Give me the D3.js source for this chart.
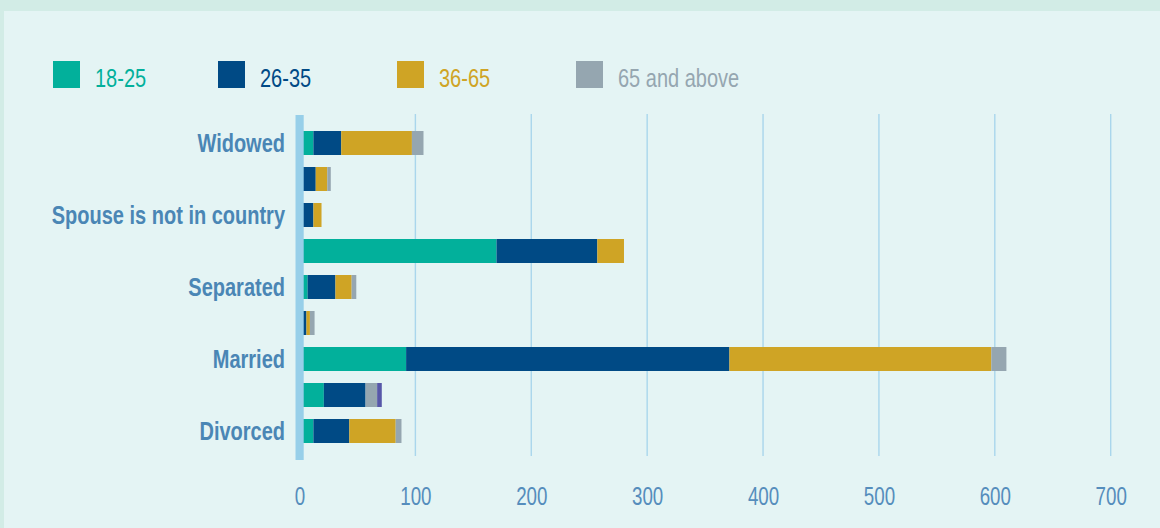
<!DOCTYPE html>
<html>
<head>
<meta charset="utf-8">
<script src="https://cdn.jsdelivr.net/npm/d3@7/dist/d3.min.js"></script>
<style>
  html, body { margin: 0; padding: 0; background: #d2ece6; }
  svg { display: block; }
  text { font-family: "Liberation Sans", Arial, sans-serif; }
</style>
</head>
<body>
<svg id="chart" width="1160" height="528"></svg>
<script>
// Marital status, listed top to bottom (blank rows carry no visible label)
const categories = ["Widowed", "", "Spouse is not in country", "", "Separated", "", "Married", "", "Divorced"];

// Age groups
const seriesNames = ["18-25", "26-35", "36-65", "65 and above", "other"];
const legendNames = ["18-25", "26-35", "36-65", "65 and above"];

// Counts per age group, same order as categories
const values18to25 = [12, 0, 0, 170, 7, 0, 92, 21, 12];
const values26to35 = [24, 14, 12, 87, 24, 6, 279, 36, 31];
const values36to65 = [61, 10, 7, 23, 14, 3, 226, 0, 40];
const values65up   = [10, 3, 0, 0, 4, 4, 13, 10, 5];
const valuesOther  = [0, 0, 0, 0, 0, 0, 0, 4, 0];

const xTicks = [0, 100, 200, 300, 400, 500, 600, 700];

const colors = ["#02b09b", "#004a85", "#cfa425", "#95a6b0", "#5757a8"];
const legendTextColors = ["#02b09b", "#004a85", "#cfa425", "#95a6b0"];

// condensed look: regular sans squeezed horizontally
const NARROW = 0.8;

const seriesValues = [values18to25, values26to35, values36to65, values65up, valuesOther];
const rows = categories.map((c, i) => {
  const r = { idx: i, label: c };
  seriesNames.forEach((s, k) => { r[s] = seriesValues[k][i]; });
  return r;
});

const svg = d3.select("#chart");

// panel
svg.append("rect").attr("x", 4).attr("y", 11).attr("width", 1156).attr("height", 517).attr("fill", "#e4f4f4");

const x = d3.scaleLinear().domain([0, 700]).range([299.5, 1110.7]);
const y = d3.scaleBand().domain(rows.map(r => r.idx)).range([125, 449]).paddingInner(1 / 3).paddingOuter(1 / 6);

// vertical grid lines
svg.append("g").selectAll("line").data(xTicks.filter(t => t > 0)).join("line")
  .attr("x1", d => x(d)).attr("x2", d => x(d))
  .attr("y1", 114).attr("y2", 456)
  .attr("stroke", "#a9d6ec").attr("stroke-width", 1.4);

// stacked bars
const stack = d3.stack().keys(seriesNames)(rows);
svg.append("g").selectAll("g").data(stack).join("g")
  .attr("fill", (d, i) => colors[i])
  .selectAll("rect").data(d => d).join("rect")
  .attr("x", d => x(d[0]))
  .attr("width", d => x(d[1]) - x(d[0]))
  .attr("y", d => y(d.data.idx))
  .attr("height", y.bandwidth());

// zero axis bar
svg.append("rect")
  .attr("x", x(0) - 4).attr("width", 8.2)
  .attr("y", 115).attr("height", 345)
  .attr("fill", "#97cfe9");

// category labels
svg.append("g").selectAll("text").data(rows.filter(r => r.label)).join("text")
  .attr("transform", d => `translate(285,${y(d.idx) + y.bandwidth() / 2 + 9}) scale(${NARROW},1)`)
  .attr("text-anchor", "end")
  .attr("font-size", 25)
  .attr("font-weight", "bold")
  .attr("fill", "#4a86b5")
  .text(d => d.label);

// x axis tick labels
const xAxis = d3.axisBottom(x).tickValues(xTicks).tickSize(0).tickPadding(0).tickFormat(d3.format("d"));
const axisG = svg.append("g").attr("transform", "translate(0,487)").call(xAxis);
axisG.select(".domain").remove();
axisG.selectAll("text")
  .attr("font-size", 25)
  .attr("fill", "#558dbc")
  .attr("dy", "0.71em")
  .attr("transform", "scale(0.75,1)")
  .style("font-family", "\"Liberation Sans\", Arial, sans-serif");

// legend
const legendX = [53, 218, 397, 576];
const lg = svg.append("g").selectAll("g").data(legendNames).join("g")
  .attr("transform", (d, i) => `translate(${legendX[i]},61)`);
lg.append("rect").attr("width", 27).attr("height", 27).attr("fill", (d, i) => colors[i]);
lg.append("text")
  .attr("transform", `translate(42,26) scale(${NARROW},1)`)
  .attr("font-size", 25)
  .attr("fill", (d, i) => legendTextColors[i])
  .text(d => d);
</script>
</body>
</html>
